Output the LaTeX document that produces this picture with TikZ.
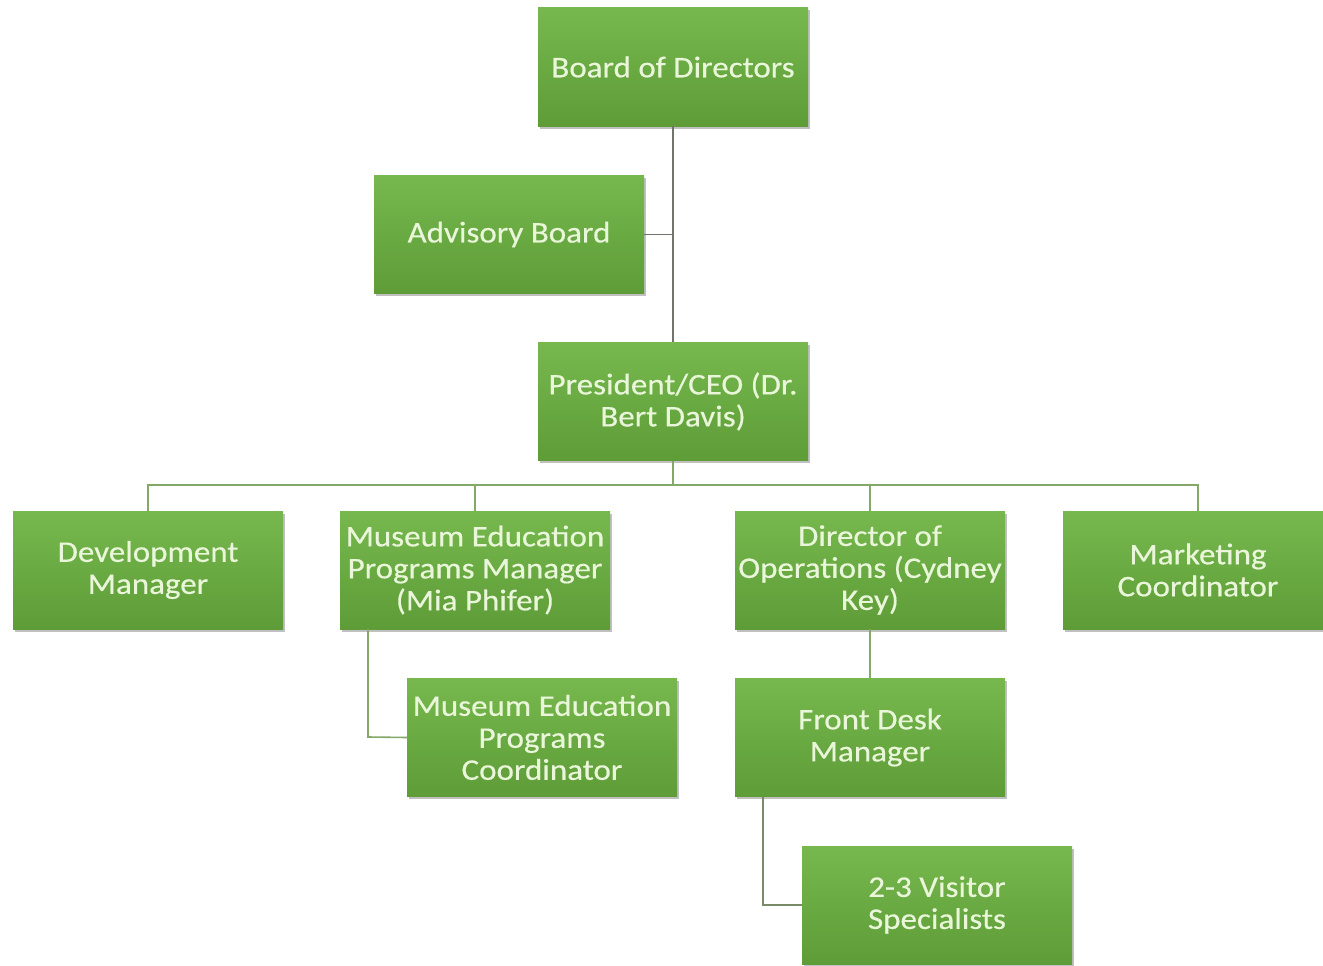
\documentclass[tikz,border=0pt]{standalone}
\usepackage{fontspec}
\setmainfont{Carlito}
\newfontfamily\boxfont[FakeStretch=1.1, FakeBold=0.4]{Carlito}
\usetikzlibrary{shadows}
\definecolor{boxtop}{RGB}{118,184,78}
\definecolor{boxbot}{RGB}{94,156,55}
\definecolor{boxtext}{RGB}{234,246,218}
\definecolor{linkgray}{RGB}{112,118,108}
\definecolor{linkgreen}{RGB}{132,168,104}
\tikzset{
  orgbox/.style={rectangle, minimum width=270pt, minimum height=118pt,
    top color=boxtop, bottom color=boxbot, draw=none,
    text=boxtext, align=center, inner sep=2pt,
    font=\boxfont\fontsize{30}{32}\selectfont,
    drop shadow={shadow xshift=1.5pt, shadow yshift=-2.5pt, opacity=0.35, fill=black!70}},
  linktop/.style={draw=linkgray, line width=1.6pt},
  linkbot/.style={draw=linkgreen, line width=1.6pt}
}
\begin{document}
\begin{tikzpicture}[x=1pt, y=-1pt]
\useasboundingbox (0,0) rectangle (1323,966);
\clip (0,0) rectangle (1323,966);
\fill[white] (0,0) rectangle (1323,966);

% junction points of the elbow connectors
\coordinate (bus) at (673,485);
\coordinate (advj) at (673,234.5);
\coordinate (mepj) at (368,737);
\coordinate (fdj) at (763,905);

\node[orgbox] (board) at (673,67) {Board of Directors};
\node[orgbox] (adv) at (509,234.5) {Advisory Board};
\node[orgbox] (ceo) at (673,401.5) {President/CEO (Dr.\\Bert Davis)};
\node[orgbox] (dev) at (148,570) {Development\\Manager};
\node[orgbox] (mepm) at (475,570) {Museum Education\\Programs Manager\\(Mia Phifer)};
\node[orgbox] (ops) at (870,570) {Director of\\Operations (Cydney\\Key)};
\node[orgbox] (mkt) at (1198,570) {Marketing\\Coordinator};
\node[orgbox] (mepc) at (542,737.5) {Museum Education\\Programs\\Coordinator};
\node[orgbox] (fdm) at (870,737.5) {Front Desk\\Manager};
\node[orgbox] (vis) at (937,905) {2-3 Visitor\\Specialists};

\draw[linktop] (board.south) -- (ceo.north);
\draw[linktop] (adv.east) -- (advj);
\draw[linkbot] (ceo.south) -- (bus);
\draw[linkbot] (dev.north) |- (bus) -| (mkt.north);
\draw[linkbot] (mepm.north) -- (mepm.north |- bus);
\draw[linkbot] (ops.north) -- (ops.north |- bus);
\draw[linkbot] (mepm.south -| mepj) -- (mepj) -- (mepc.west);
\draw[linkbot] (ops.south) -- (fdm.north);
\draw[linkgray!60!linkgreen, line width=1.6pt] (fdm.south -| fdj) -- (fdj) -- (vis.west);
\end{tikzpicture}
\end{document}
